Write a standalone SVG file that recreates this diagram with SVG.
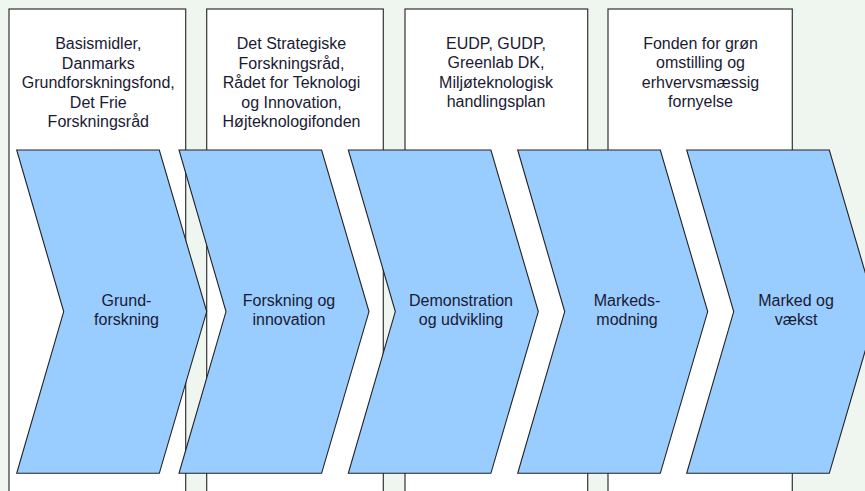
<svg xmlns="http://www.w3.org/2000/svg" width="865" height="491" viewBox="0 0 865 491">
<style>
.bg{fill:#EEF6EF}
.box{fill:#FFFFFF;stroke:#333333;stroke-width:1.2}
.chev{fill:#99CCFF;stroke:#222222;stroke-width:1.1;stroke-linejoin:miter}
text{font-family:"Liberation Sans",Arial,sans-serif;font-size:16px;fill:#1a1a33;text-anchor:middle}
</style>
<defs>
<polygon id="chevShape" points="0,150 142.6,150 190,311.6 142.6,473.3 0,473.3 47,311.6"/>
</defs>
<rect class="bg" x="0" y="0" width="865" height="491"/>

<g id="box-grundforskning">
<rect class="box" x="9" y="9" width="176.7" height="490"/>
<text x="98.3" y="49.3">Basismidler,</text>
<text x="98.3" y="68.8">Danmarks</text>
<text x="98.3" y="88.3">Grundforskningsfond,</text>
<text x="98.3" y="107.8">Det Frie</text>
<text x="98.3" y="127.3">Forskningsråd</text>
</g>

<g id="box-forskning">
<rect class="box" x="206.7" y="9" width="176.6" height="490"/>
<text x="291.5" y="49.3">Det Strategiske</text>
<text x="291.5" y="68.8">Forskningsråd,</text>
<text x="291.5" y="88.3">Rådet for Teknologi</text>
<text x="291.5" y="107.8">og Innovation,</text>
<text x="291.5" y="127.3">Højteknologifonden</text>
</g>

<g id="box-demonstration">
<rect class="box" x="405" y="9" width="182.7" height="490"/>
<text x="496" y="48.8">EUDP, GUDP,</text>
<text x="496" y="68.3">Greenlab DK,</text>
<text x="496" y="87.8">Miljøteknologisk</text>
<text x="496" y="107.3">handlingsplan</text>
</g>

<g id="box-markedsmodning">
<rect class="box" x="608" y="9" width="184.3" height="490"/>
<text x="700.5" y="48.8">Fonden for grøn</text>
<text x="700.5" y="68.3">omstilling og</text>
<text x="700.5" y="87.8">erhvervsmæssig</text>
<text x="700.5" y="107.3">fornyelse</text>
</g>

<g id="chev-grundforskning">
<use href="#chevShape" class="chev" x="16.7"/>
<text x="126.5" y="306">Grund-</text>
<text x="126.5" y="325">forskning</text>
</g>

<g id="chev-forskning">
<use href="#chevShape" class="chev" x="179"/>
<text x="289" y="306">Forskning og</text>
<text x="289" y="325">innovation</text>
</g>

<g id="chev-demonstration">
<use href="#chevShape" class="chev" x="348.3"/>
<text x="461" y="306">Demonstration</text>
<text x="461" y="325">og udvikling</text>
</g>

<g id="chev-markedsmodning">
<use href="#chevShape" class="chev" x="517.7"/>
<text x="627" y="306">Markeds-</text>
<text x="627" y="325">modning</text>
</g>

<g id="chev-marked">
<use href="#chevShape" class="chev" x="686.7"/>
<text x="796" y="306">Marked og</text>
<text x="796" y="325">vækst</text>
</g>
</svg>
